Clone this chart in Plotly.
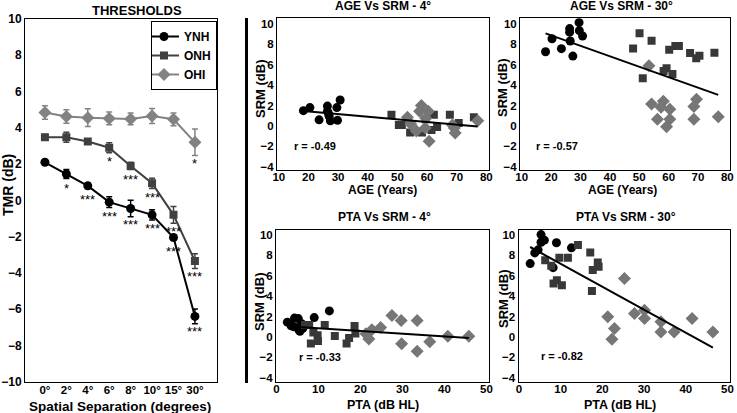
import numpy as np
import plotly.graph_objects as go

# ---------------- data ----------------
angles = ["0°", "2°", "4°", "6°", "8°", "10°", "15°", "30°"]
angle_pos = [1, 2, 3, 4, 5, 6, 7, 8]

ynh_tmr = [2.1, 1.45, 0.8, -0.1, -0.45, -0.8, -2.05, -6.4]
ynh_err = [0.12, 0.25, 0.15, 0.3, 0.45, 0.28, 0.15, 0.41]
onh_tmr = [3.48, 3.48, 3.24, 2.9, 1.9, 0.94, -0.8, -3.35]
onh_err = [0.15, 0.28, 0.15, 0.28, 0.2, 0.28, 0.46, 0.41]
ohi_tmr = [4.84, 4.62, 4.56, 4.52, 4.49, 4.65, 4.47, 3.2]
ohi_err = [0.37, 0.37, 0.49, 0.35, 0.32, 0.41, 0.35, 0.73]

ynh_sig = ["", "*", "***", "***", "***", "***", "***", "***"]
onh_sig = ["", "", "", "*", "***", "***", "***", "***"]
ohi_sig = ["", "", "", "", "", "", "", "*"]

# AGE vs SRM - 4 deg
ynh_age_a4 = [18.3, 20.5, 23.6, 26.4, 26.4, 27.0, 27.4, 29.6, 29.8, 30.7, 26.8]
ynh_srm_a4 = [1.5, 1.8, 0.6, 1.95, 1.45, 0.95, 0.5, 1.8, 0.55, 2.55, 1.2]
onh_age_a4 = [48.0, 50.5, 51.5, 54.3, 58.3, 59.5, 61.5, 62.3, 63.4, 67.7, 70.7, 75.8]
onh_srm_a4 = [1.1, 0.1, 0.1, -0.65, -0.65, 0.65, -0.4, 1.1, -0.1, 1.1, 0.3, 0.85]
ohi_age_a4 = [53.4, 54.5, 56.4, 57.5, 58.1, 59.4, 59.6, 60.4, 60.7, 68.6, 69.2, 69.5, 77.1]
ohi_srm_a4 = [0.85, 0.2, -0.5, 1.45, 2.0, -0.2, 0.75, 1.45, -1.5, 0.1, -0.2, -0.7, 0.5]

# AGE vs SRM - 30 deg
ynh_age_a30 = [18.1, 20.3, 23.5, 26.3, 26.3, 26.5, 27.4, 29.5, 29.6, 30.7]
ynh_srm_a30 = [7.28, 8.55, 7.58, 9.55, 9.2, 8.33, 6.85, 10.15, 9.35, 8.82]
onh_age_a30 = [47.9, 50.1, 51.2, 54.2, 58.3, 59.3, 60.2, 61.3, 62.3, 63.5, 67.3, 69.4, 70.5, 75.6]
onh_srm_a30 = [7.6, 9.1, 4.67, 8.35, 5.4, 5.65, 7.48, 5.09, 7.85, 7.85, 7.15, 6.65, 6.89, 7.19]
ohi_age_a30 = [53.3, 54.2, 56.2, 57.4, 58.2, 59.3, 60.4, 60.4, 68.6, 68.6, 69.5, 76.9]
ohi_srm_a30 = [5.9, 2.15, 0.66, 1.83, 2.42, -0.08, 1.63, 0.66, 0.66, 1.9, 2.62, 0.9]

# PTA vs SRM - 4 deg
ynh_pta_p4 = [2.6, 3.5, 4.3, 5.2, 5.6, 6.0, 5.4, 9.0, 12.6, 4.2, 6.3]
ynh_srm_p4 = [1.45, 1.1, 1.85, 1.8, 0.55, 1.3, 0.65, 1.9, 2.55, 1.0, 0.85]
onh_pta_p4 = [6.8, 7.8, 8.8, 8.2, 9.9, 9.8, 11.5, 13.9, 16.7, 17.3, 18.6, 18.8]
onh_srm_p4 = [1.16, 1.16, 0.43, -0.66, -0.4, 0.17, 1.16, 0.1, -0.66, -0.1, 1.06, 0.33]
ohi_pta_p4 = [21.3, 22.0, 22.7, 24.8, 27.5, 29.7, 29.8, 33.5, 33.5, 36.5, 40.8, 45.8]
ohi_srm_p4 = [0.3, -0.2, 0.7, 0.92, 2.09, 1.6, -0.67, 1.6, -1.4, -0.47, 0.06, 0.06]

# PTA vs SRM - 30 deg
ynh_pta_p30 = [2.7, 3.8, 4.6, 5.3, 5.3, 6.1, 8.2, 9.0, 12.6]
ynh_srm_p30 = [7.2, 8.25, 8.55, 10.05, 9.3, 9.5, 6.8, 9.25, 8.75]
onh_pta_p30 = [6.3, 7.75, 8.3, 9.1, 9.7, 10.3, 11.75, 14.15, 17.1, 17.7, 17.5, 18.9, 19.1]
onh_srm_p30 = [7.54, 6.98, 5.25, 5.57, 7.77, 5.08, 7.77, 9.02, 8.3, 6.56, 4.52, 7.31, 6.89]
ohi_pta_p30 = [21.3, 22.9, 22.3, 25.3, 27.7, 30.1, 30.1, 34.05, 34.05, 37.2, 41.5, 46.5]
ohi_srm_p30 = [1.97, 0.82, -0.23, 5.74, 2.3, 2.62, 1.8, 1.48, 0.49, 0.49, 1.8, 0.49]

r_labels = ["r = -0.49", "r = -0.57", "r = -0.33", "r = -0.82"]
panel_titles = ["AGE Vs SRM - 4°", "AGE Vs SRM - 30°", "PTA Vs SRM - 4°", "PTA Vs SRM - 30°"]

# ---------------- style ----------------
W, H = 737, 413
FONT = "Liberation Sans, Arial, Helvetica, sans-serif"
C_YNH, C_ONH, C_OHI = "#000000", "#404040", "#828282"
SC_ONH, SC_OHI = "#383838", "#767676"


def px(x):
    return x / W


def py(y):
    return 1 - y / H


fig = go.Figure()

# ---------------- left panel ----------------
groups = [("YNH", ynh_tmr, ynh_err, ynh_sig, C_YNH, "circle", 9),
          ("ONH", onh_tmr, onh_err, onh_sig, C_ONH, "square", 8),
          ("OHI", ohi_tmr, ohi_err, ohi_sig, C_OHI, "diamond", 10)]
for name, vals, errs, sig, col, sym, ms in groups:
    fig.add_trace(go.Scatter(
        x=angle_pos, y=vals, name=name, mode="lines+markers",
        line=dict(color=col, width=2),
        marker=dict(color=col, symbol=sym, size=ms),
        error_y=dict(type="data", array=errs, color=col, thickness=1.5, width=3),
        xaxis="x", yaxis="y", showlegend=True))

annotations = []
ppd = (381.7 - 19) / 20.0  # pixels per dB in left panel
for name, vals, errs, sig, col, sym, ms in groups:
    for xp, v, e, s in zip(angle_pos, vals, errs, sig):
        if s:
            off = max(11, e * ppd + 5)
            annotations.append(dict(x=xp, y=v, xref="x", yref="y", text=s, showarrow=False,
                                    font=dict(family=FONT, size=13, color="black"),
                                    yanchor="middle", xanchor="center", yshift=-(off + 3)))

# ---------------- scatter panels ----------------
panels = [
    (ynh_age_a4, ynh_srm_a4, onh_age_a4, onh_srm_a4, ohi_age_a4, ohi_srm_a4),
    (ynh_age_a30, ynh_srm_a30, onh_age_a30, onh_srm_a30, ohi_age_a30, ohi_srm_a30),
    (ynh_pta_p4, ynh_srm_p4, onh_pta_p4, onh_srm_p4, ohi_pta_p4, ohi_srm_p4),
    (ynh_pta_p30, ynh_srm_p30, onh_pta_p30, onh_srm_p30, ohi_pta_p30, ohi_srm_p30),
]
for i, (yx, yy, ox, oy, hx, hy) in enumerate(panels):
    xa, ya = "x%d" % (i + 2), "y%d" % (i + 2)
    fig.add_trace(go.Scatter(x=yx, y=yy, mode="markers", showlegend=False,
                             marker=dict(color=C_YNH, symbol="circle", size=9), xaxis=xa, yaxis=ya))
    fig.add_trace(go.Scatter(x=ox, y=oy, mode="markers", showlegend=False,
                             marker=dict(color=SC_ONH, symbol="square", size=8), xaxis=xa, yaxis=ya))
    fig.add_trace(go.Scatter(x=hx, y=hy, mode="markers", showlegend=False,
                             marker=dict(color=SC_OHI, symbol="diamond", size=10), xaxis=xa, yaxis=ya))
    allx = np.array(yx + ox + hx)
    ally = np.array(yy + oy + hy)
    k, b = np.polyfit(allx, ally, 1)
    lx = np.array([allx.min(), allx.max()])
    fig.add_trace(go.Scatter(x=lx, y=k * lx + b, mode="lines", showlegend=False,
                             line=dict(color="black", width=2), xaxis=xa, yaxis=ya))

# ---------------- axes ----------------
axis_common = dict(showline=True, mirror=True, linecolor="black", linewidth=1,
                   showgrid=False, zeroline=False, ticks="", ticklen=0, automargin=False,
                   tickfont=dict(family=FONT, size=12, color="black", weight="bold"))

left_x = dict(axis_common)
left_x["tickfont"] = dict(family=FONT, size=11.5, color="black", weight="bold")
fig.update_layout(
    xaxis=dict(domain=[px(25), px(217)], range=[0.07, 9.03], tickvals=angle_pos, ticktext=angles,
               anchor="y", ticklabelstandoff=-3, **left_x),
    yaxis=dict(domain=[py(381.7), py(19)], range=[-10, 10], dtick=2, anchor="x", **axis_common),
)

sc_axis = dict(axis_common)
sc_axis["tickfont"] = dict(family=FONT, size=11.5, color="black", weight="bold")
xdoms = [(277, 489), (520, 730), (276, 489), (518.5, 730)]
ydoms = [(18.3, 170), (18.3, 170), (230, 381.7), (230, 381.7)]
xranges = [[9.4, 80.9], [9.4, 80.9], [-0.1, 50.6], [-0.1, 50.6]]
yranges = [[-4.32, 10.56], [-4.32, 10.56], [-4.4, 10.5], [-4.4, 10.5]]
for i in range(4):
    n = i + 2
    fig.layout["xaxis%d" % n] = dict(domain=[px(xdoms[i][0]), px(xdoms[i][1])], range=xranges[i],
                                     dtick=10, anchor="y%d" % n, ticklabelstandoff=-4, **sc_axis)
    fig.layout["yaxis%d" % n] = dict(domain=[py(ydoms[i][1]), py(ydoms[i][0])], range=yranges[i],
                                     dtick=2, anchor="x%d" % n, **sc_axis)

# ---------------- text ----------------
def txt(x, y, s, size, angle=0):
    return dict(x=px(x), y=py(y), xref="paper", yref="paper", text="<b>%s</b>" % s, showarrow=False,
                font=dict(family=FONT, size=size, color="black"), xanchor="center", yanchor="middle",
                textangle=angle)


annotations += [
    txt(137, 10, "THRESHOLDS", 13),
    txt(8, 185, "TMR (dB)", 14, -90),
    txt(120, 406, "Spatial Separation (degrees)", 13.5),
    txt(383, 6, panel_titles[0], 12),
    txt(621, 6, panel_titles[1], 12),
    txt(385, 217, panel_titles[2], 12),
    txt(626, 217, panel_titles[3], 12),
    txt(382, 190, "AGE (Years)", 12),
    txt(622, 190, "AGE (Years)", 12),
    txt(383, 405, "PTA (dB HL)", 12.5),
    txt(620, 405, "PTA (dB HL)", 12.5),
    txt(260, 89, "SRM (dB)", 13, -90),
    txt(502, 88, "SRM (dB)", 13, -90),
    txt(259, 302, "SRM (dB)", 13, -90),
    txt(503, 299, "SRM (dB)", 13, -90),
]
r_pos = [(14.4, -2.0), (14.0, -2.0), (4.8, -2.0), (4.7, -1.9)]
for i, (rx, ry) in enumerate(r_pos):
    annotations.append(dict(x=rx, y=ry, xref="x%d" % (i + 2), yref="y%d" % (i + 2),
                            text="<b>%s</b>" % r_labels[i], showarrow=False, xanchor="left",
                            yanchor="middle", font=dict(family=FONT, size=11, color="black")))

fig.update_layout(
    width=W, height=H, margin=dict(l=0, r=0, t=0, b=0, autoexpand=False),
    paper_bgcolor="white", plot_bgcolor="white",
    annotations=annotations,
    showlegend=True,
    legend=dict(x=px(217), y=py(21), xanchor="right", yanchor="top",
                bordercolor="black", borderwidth=1, bgcolor="white",
                font=dict(family=FONT, size=12, color="black", weight="bold"),
                itemwidth=30, tracegroupgap=0, indentation=-8),
    shapes=[dict(type="line", xref="paper", yref="paper", x0=px(246.5), x1=px(246.5),
                 y0=py(383), y1=py(18), line=dict(color="black", width=3))],
)

fig.write_html("out.html", config={"displayModeBar": False},
               post_script="document.body.style.margin='0';document.body.style.padding='0';")
